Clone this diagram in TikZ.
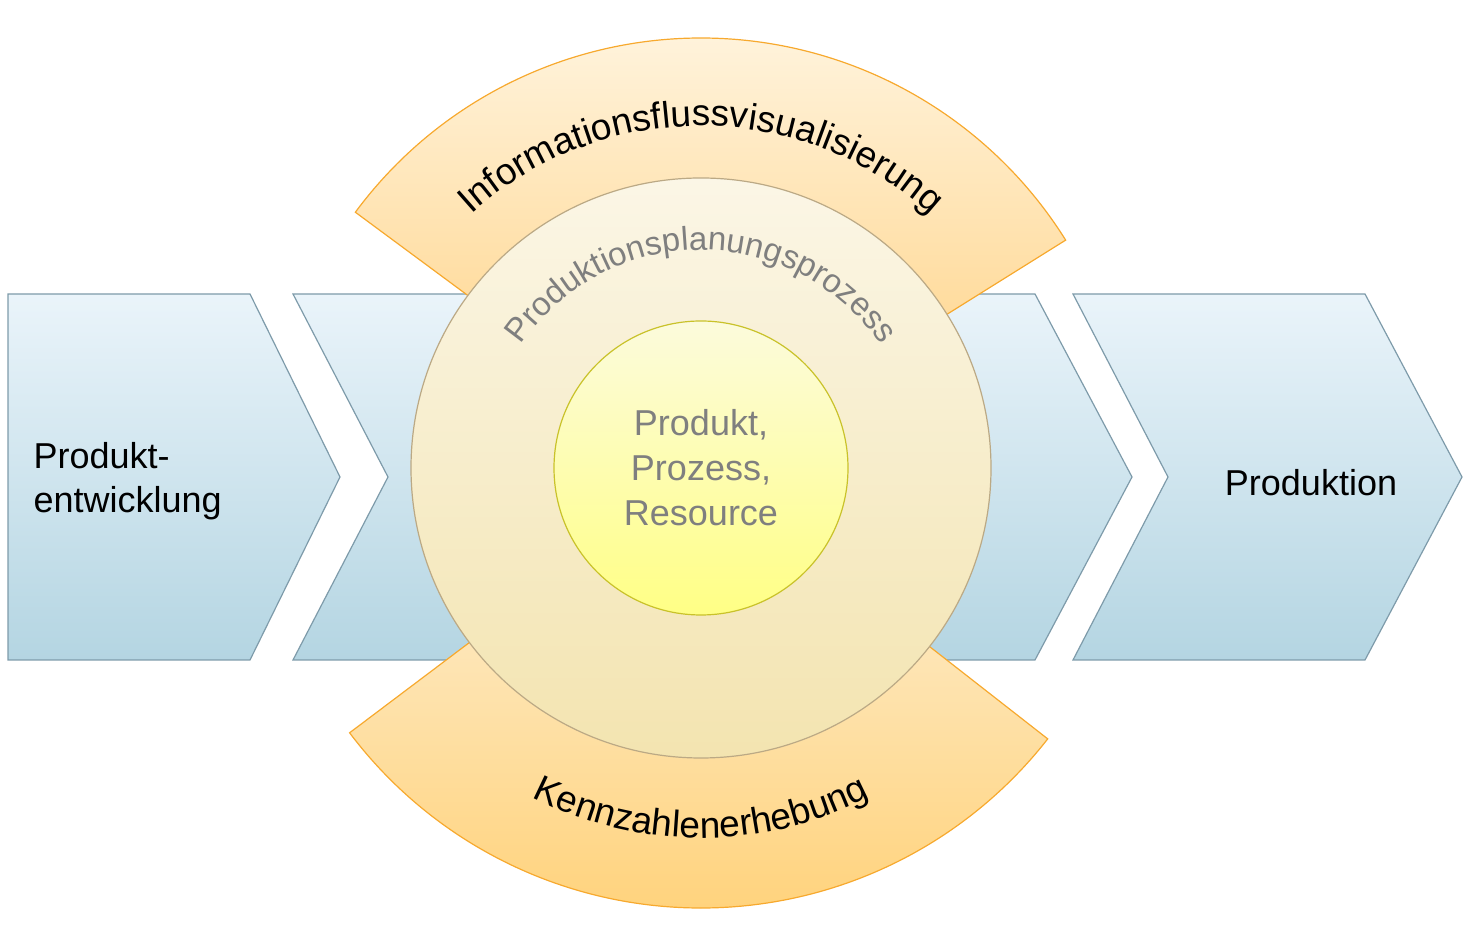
\documentclass[tikz,border=0pt]{standalone}
\usepackage{fontspec}
\setmainfont{Liberation Sans}
\usetikzlibrary{decorations.text}
\definecolor{chtop}{HTML}{EAF4FA}
\definecolor{chbot}{HTML}{B4D5E2}
\definecolor{chdraw}{HTML}{7E9BAA}
\definecolor{bandA1}{HTML}{FFF4DE}
\definecolor{bandA2}{HTML}{FFDB9C}
\definecolor{bandB1}{HTML}{FEE6B8}
\definecolor{bandB2}{HTML}{FFD27A}
\definecolor{banddraw}{HTML}{F7A92E}
\definecolor{circ1}{HTML}{FBF6E6}
\definecolor{circ2}{HTML}{F3E4B0}
\definecolor{circdraw}{HTML}{BBA985}
\definecolor{in1}{HTML}{FCFBDC}
\definecolor{in2}{HTML}{FFFF85}
\definecolor{indraw}{HTML}{C9C22A}
\definecolor{txtg}{HTML}{7F7F7F}
\begin{document}
\begin{tikzpicture}[x=1pt,y=1pt,
  chev/.style={draw=chdraw,line width=1.2pt,top color=chtop,bottom color=chbot},
  band/.style={draw=banddraw,line width=1.2pt},
  lbl/.style={font=\fontsize{36}{44}\selectfont,align=left}]
\useasboundingbox (0,0) rectangle (1470,936);
\coordinate (c) at (701,468);
% chevrons
\shade[chev] (8,642) -- (250,642) -- (340,459) -- (250,276) -- (8,276) -- cycle;
\shade[chev] (293,642) -- (1035,642) -- (1132,459) -- (1035,276) -- (293,276) -- (388,459) -- cycle;
\shade[chev] (1073,642) -- (1365,642) -- (1462,459) -- (1365,276) -- (1073,276) -- (1168,459) -- cycle;
% bands
\shade[band,top color=bandA1,bottom color=bandA2]
  ([shift={(c)}]143.5:430) arc[start angle=143.5,end angle=32,radius=430]
  -- ([shift={(c)}]32:280) arc[start angle=32,end angle=143.5,radius=280] -- cycle;
\shade[band,top color=bandB1,bottom color=bandB2]
  ([shift={(c)}]217:440) arc[start angle=217,end angle=322,radius=440]
  -- ([shift={(c)}]322:280) arc[start angle=322,end angle=217,radius=280] -- cycle;
% circles
\shade[draw=circdraw,line width=1.2pt,top color=circ1,bottom color=circ2] (c) circle[radius=290];
\shade[draw=indraw,line width=1.2pt,top color=in1,bottom color=in2] (c) circle[radius=147];
% curved texts
\path[decorate,decoration={text along path,text align=center,
  text={|\fontsize{37}{44}\selectfont|Informationsflussvisualisierung}}]
  ([shift={(c)}]155:342) arc[start angle=155,end angle=25,radius=342];
\path[decorate,decoration={text along path,text align=center,
  text={|\fontsize{37}{44}\selectfont|Kennzahlenerhebung}}]
  ([shift={(c)}]210:370) arc[start angle=210,end angle=330,radius=370];
\path[decorate,decoration={text along path,text align=center,text color=txtg,
  text={|\fontsize{33}{40}\selectfont|Produktionsplanungsprozess}}]
  ([shift={(c)}]165:218) arc[start angle=165,end angle=15,radius=218];
% labels
\node[lbl,anchor=west] (pe) at (30,455) {Produkt-\\entwicklung};
\node[lbl] (pr) at (1311,453) {Produktion};
\node[lbl,align=center,text=txtg,font=\fontsize{36}{45}\selectfont] (ppr) at (c) {Produkt,\\Prozess,\\Resource};
\end{tikzpicture}
\end{document}
